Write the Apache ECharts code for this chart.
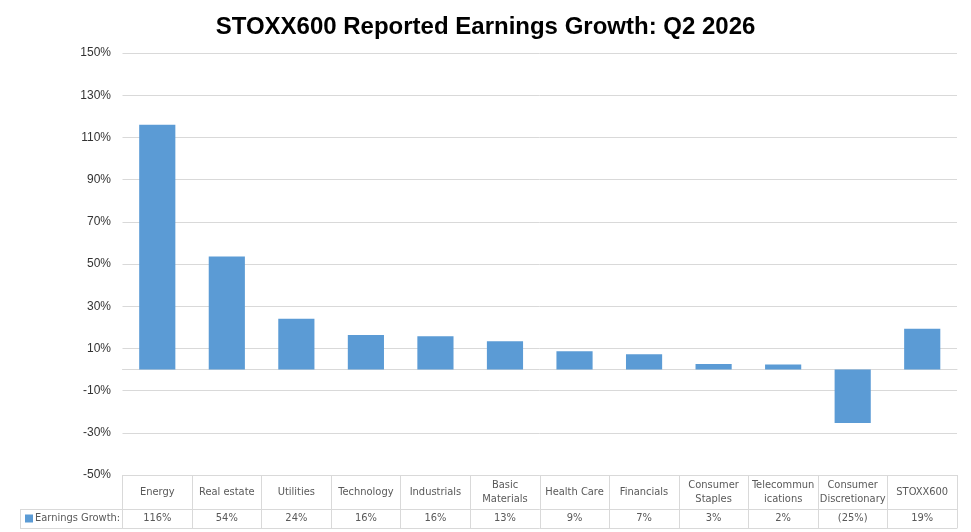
<!DOCTYPE html>
<html>
<head>
<meta charset="utf-8">
<script src="https://cdn.jsdelivr.net/npm/echarts@6/dist/echarts.min.js"></script>
<style>
  html, body { margin: 0; padding: 0; background: #fff; }
  #chart { width: 971px; height: 532px; }
</style>
</head>
<body>
<div id="chart"></div>
<script>
// data
const categories = ['Energy', 'Real estate', 'Utilities', 'Technology', 'Industrials', 'Basic\nMaterials',
  'Health Care', 'Financials', 'Consumer\nStaples', 'Telecommun\nications', 'Consumer\nDiscretionary', 'STOXX600'];
const growth = [116, 53.6, 24.1, 16.4, 15.8, 13.4, 8.7, 7.2, 2.6, 2.4, -25.3, 19.3];
const yMin = -50;
const yMax = 150;
const yStep = 20;

const GRID = '#d9d9d9';
const TABLE_FONT = "'Liberation Sans Narrow', 'DejaVu Sans Condensed', 'Liberation Sans', sans-serif";

function pct(v) {
  const r = Math.round(Math.abs(v));
  return v < 0 ? '(' + r + '%)' : r + '%';
}

const option = {
  animation: false,
  title: {
    text: 'STOXX600 Reported Earnings Growth: Q2 2026',
    left: 'center',
    top: 10,
    textStyle: { fontFamily: 'Liberation Sans, Arial, sans-serif', fontSize: 24, fontWeight: 'bold', color: '#000' }
  },
  legend: {
    data: ['Earnings Growth'],
    formatter: '{name}:',
    left: 25,
    top: 513,
    padding: 0,
    icon: 'rect',
    itemWidth: 8,
    itemHeight: 8,
    textStyle: { fontFamily: TABLE_FONT, fontSize: 11, color: '#595959', padding: [0, 0, 0, -3] }
  },
  grid: { left: 122.5, right: 14, top: 53, bottom: 57, containLabel: false },
  xAxis: [
    {
      type: 'category',
      data: categories,
      axisLine: { onZero: true, lineStyle: { color: GRID } },
      axisTick: { show: false },
      axisLabel: { show: false }
    },
    {
      type: 'category',
      data: categories,
      position: 'bottom',
      offset: 0,
      axisLine: { onZero: false, lineStyle: { color: GRID } },
      axisTick: { show: true, interval: 0, length: 53, lineStyle: { color: GRID } },
      axisLabel: {
        interval: 0,
        margin: 17,
        verticalAlign: 'middle',
        lineHeight: 14,
        fontFamily: TABLE_FONT,
        fontSize: 11,
        color: '#595959'
      }
    },
    {
      type: 'category',
      data: categories,
      position: 'bottom',
      offset: 34,
      axisLine: { onZero: false, lineStyle: { color: GRID } },
      axisTick: { show: false },
      axisLabel: {
        interval: 0,
        margin: 9.5,
        verticalAlign: 'middle',
        fontFamily: TABLE_FONT,
        fontSize: 11,
        color: '#595959',
        formatter: (v, i) => pct(growth[i])
      }
    },
    {
      type: 'category',
      data: categories,
      position: 'bottom',
      offset: 53,
      axisLine: { onZero: false, lineStyle: { color: GRID } },
      axisTick: { show: false },
      axisLabel: { show: false }
    }
  ],
  yAxis: {
    type: 'value',
    min: yMin,
    max: yMax,
    interval: yStep,
    axisLine: { show: false },
    axisTick: { show: false },
    splitLine: { lineStyle: { color: GRID } },
    axisLabel: {
      margin: 11.5,
      fontFamily: 'Liberation Sans, Arial, sans-serif',
      fontSize: 12,
      color: '#333',
      formatter: '{value}%'
    }
  },
  graphic: [
    { type: 'line', shape: { x1: 20, y1: 509.5, x2: 122.5, y2: 509.5 }, style: { stroke: GRID } },
    { type: 'line', shape: { x1: 20, y1: 528.5, x2: 122.5, y2: 528.5 }, style: { stroke: GRID } },
    { type: 'line', shape: { x1: 20.5, y1: 509.5, x2: 20.5, y2: 528.5 }, style: { stroke: GRID } }
  ],
  series: [
    {
      name: 'Earnings Growth',
      type: 'bar',
      data: growth,
      barCategoryGap: '48%',
      itemStyle: { color: '#5b9bd5' }
    }
  ]
};

const chart = echarts.init(document.getElementById('chart'));
chart.setOption(option);
</script>
</body>
</html>
